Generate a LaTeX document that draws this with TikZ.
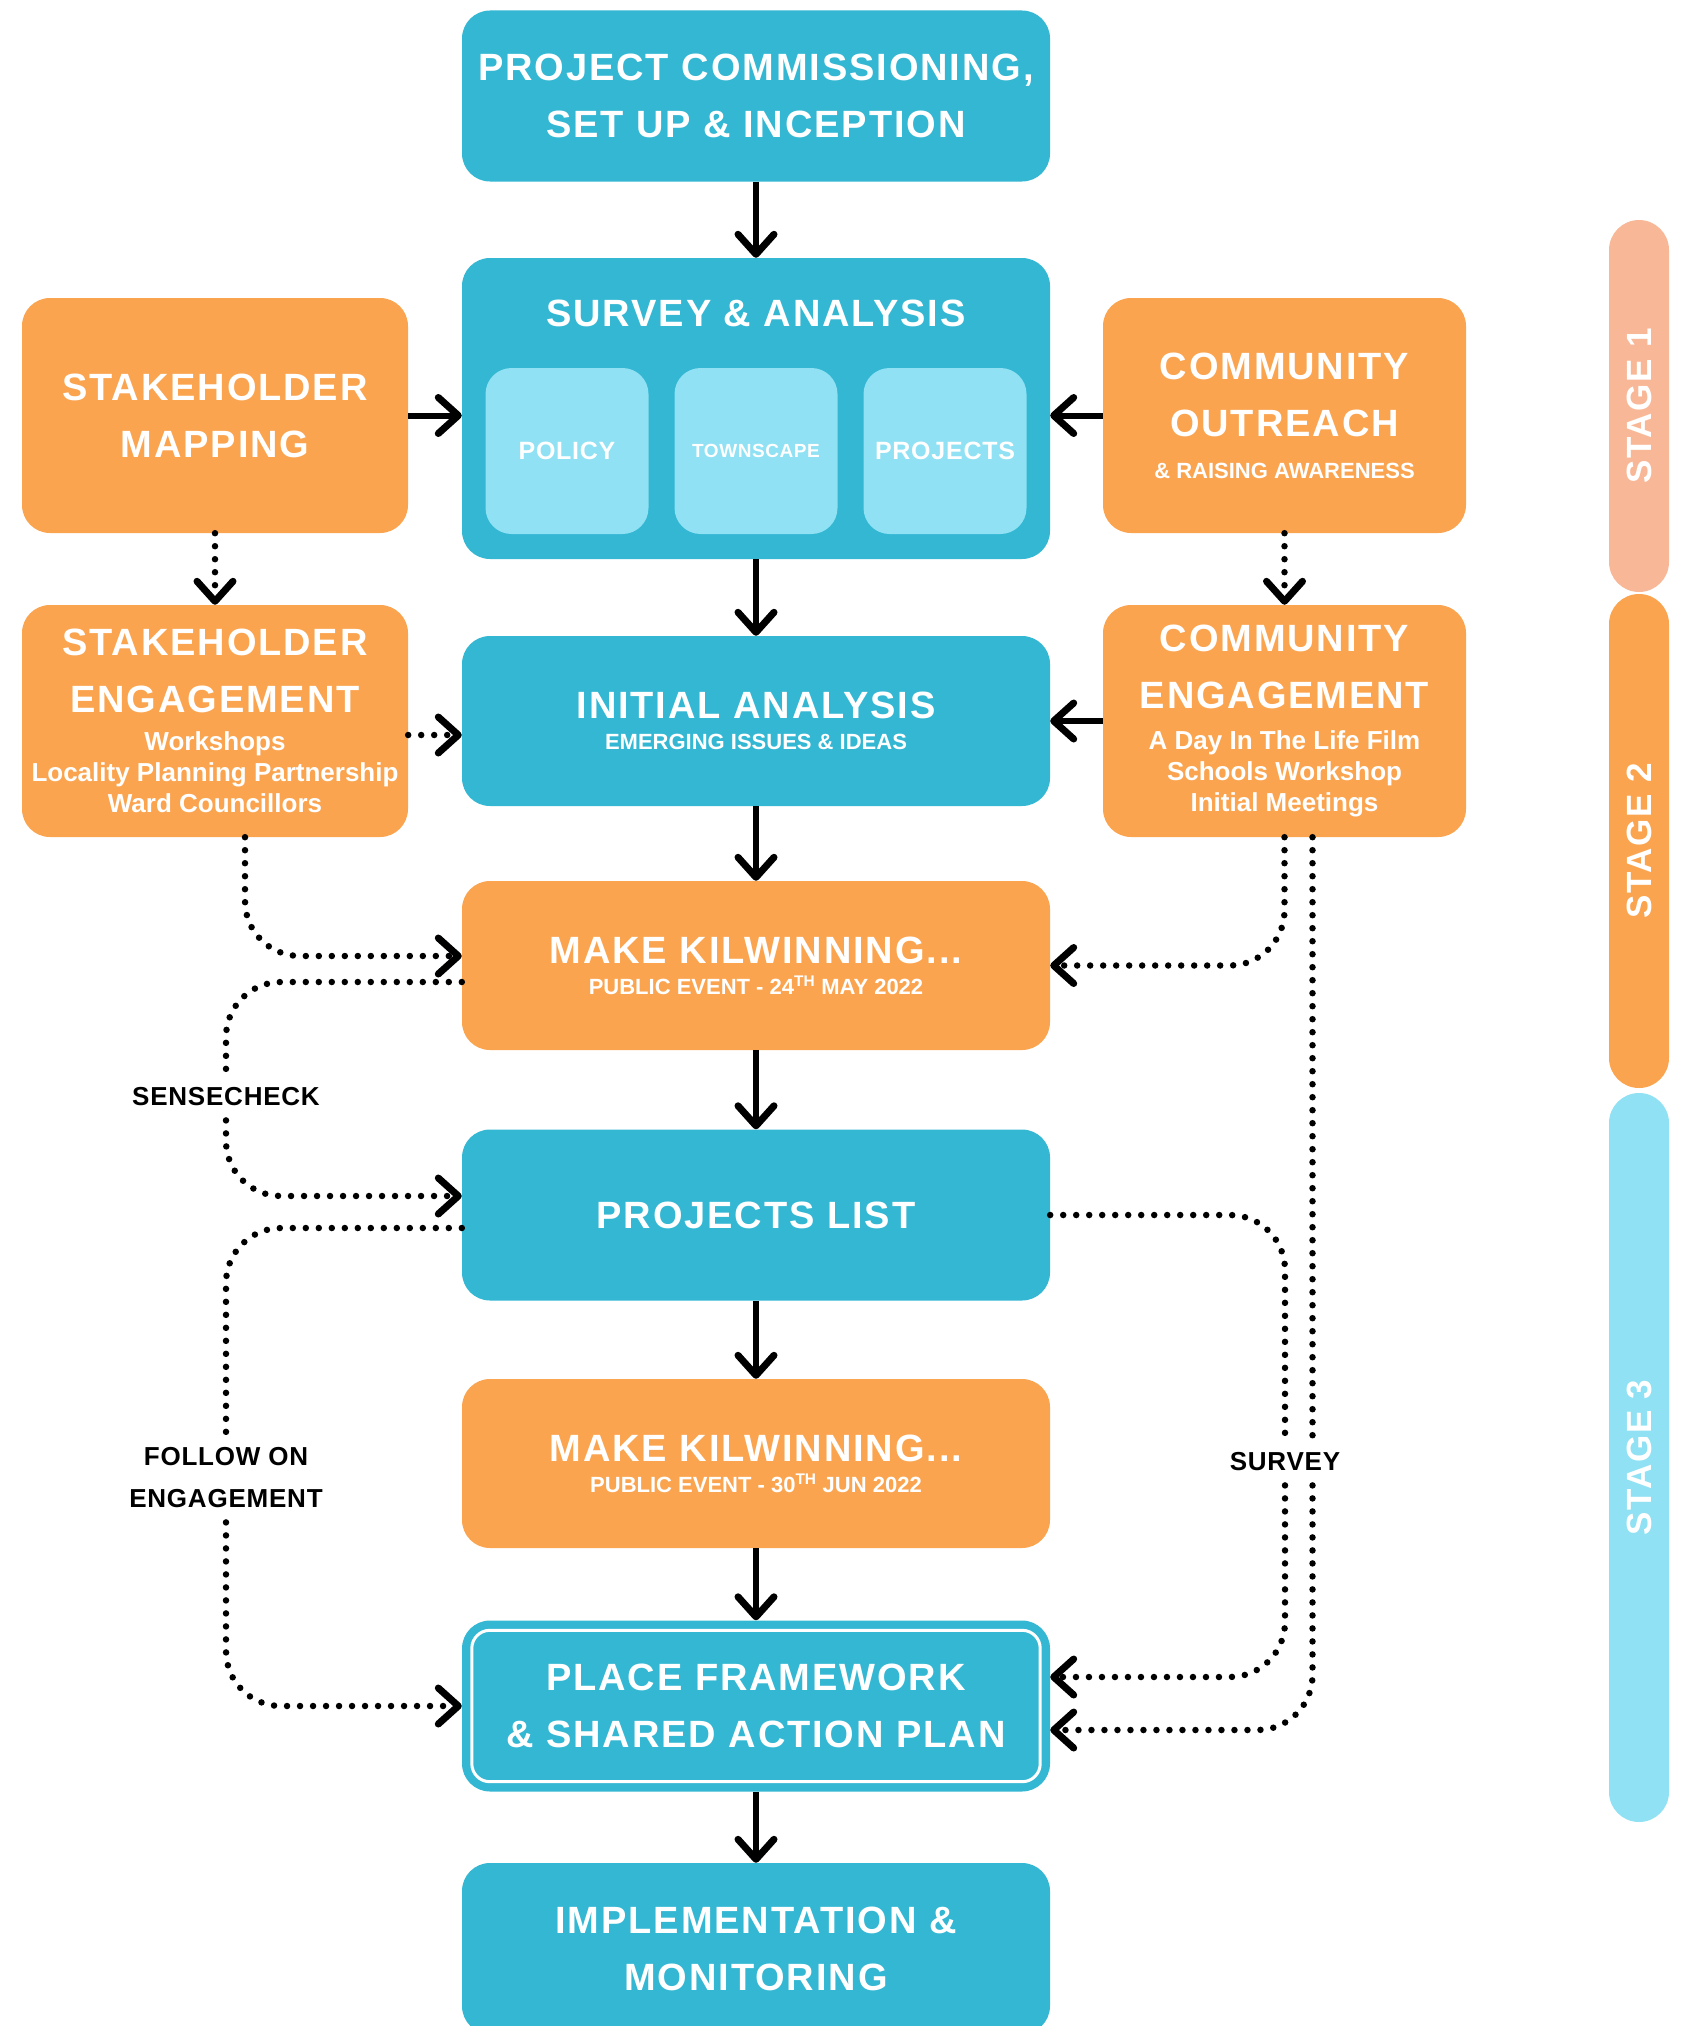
\documentclass[tikz,border=0pt]{standalone}
\usepackage{fontspec}
\setmainfont{Liberation Sans}
\newfontfamily\headfam{Liberation Sans}[LetterSpace=5]
\newfontfamily\midfam{Liberation Sans}[LetterSpace=3]
\usetikzlibrary{arrows.meta}

\definecolor{boxteal}{HTML}{33B7D3}
\definecolor{boxorange}{HTML}{FBA44F}
\definecolor{paleblue}{HTML}{8FE1F3}
\definecolor{stagesalmon}{HTML}{F8B897}

\newcommand\headfont{\headfam\bfseries\fontsize{38}{57}\selectfont}
\newcommand\bodyfont{\rmfamily\bfseries\fontsize{26}{31}\selectfont}
\newcommand\subfont{\rmfamily\bfseries\fontsize{22}{27}\selectfont}
\newcommand\tagfont{\midfam\bfseries\fontsize{26}{42}\selectfont}

\begin{document}
\begin{tikzpicture}[x=1pt,y=-1pt]
    \tikzset{box/.style = {rectangle,rounded corners=28pt,inner sep=0pt,text=white,align=center,font=\headfont}}
    \tikzset{tealbox/.style = {box,fill=boxteal,minimum width=588pt,minimum height=171pt}}
    \tikzset{orangebox/.style = {box,fill=boxorange}}
    \tikzset{subbox/.style = {rectangle,rounded corners=26pt,fill=paleblue,minimum width=163pt,minimum height=166pt,text=white,font=\midfam\bfseries\fontsize{25}{30}\selectfont}}
    \tikzset{stagebar/.style = {rectangle,rounded corners=30pt,minimum height=60pt,rotate=90,text=white,font=\headfam\bfseries\fontsize{35}{40}\selectfont}}
    \tikzset{tag/.style = {align=center,inner sep=14pt,font=\tagfont}}
    \tikzset{edge/.style = {-{Straight Barb[length=20pt,width=36pt,line width=7pt,round]},line width=6pt}}
    \tikzset{dotline/.style = {line width=6.5pt,line cap=round,dash pattern=on 0pt off 13pt,rounded corners=55pt}}
    \tikzset{dotedge/.style = {edge,dotline}}

    \useasboundingbox (0,0) rectangle (1691,2026);
    \clip (0,0) rectangle (1691,2026);

    % main column
    \node[tealbox] (pci) at (756,96) {PROJECT COMMISSIONING,\\SET UP \& INCEPTION};
    \node[tealbox,minimum height=301pt] (sa) at (756,408.5) {};
    \node[text=white,font=\headfont,anchor=base] (satitle) at (756,326) {SURVEY \& ANALYSIS};
    \node[subbox] (policy) at (567,451) {POLICY};
    \node[subbox,font=\midfam\bfseries\fontsize{19}{24}\selectfont] (townscape) at (756,451) {TOWNSCAPE};
    \node[subbox] (projects) at (945,451) {PROJECTS};
    \node[tealbox,minimum height=170pt] (ia) at (756,721) {INITIAL ANALYSIS\\[-26.3pt]\subfont EMERGING ISSUES \& IDEAS};
    \node[orangebox,minimum width=588pt,minimum height=169pt] (mk1) at (756,965.5) {MAKE KILWINNING...\\[-26.3pt]\subfont PUBLIC EVENT - 24\textsuperscript{TH} MAY 2022};
    \node[tealbox] (pl) at (756,1215) {PROJECTS LIST};
    \node[orangebox,minimum width=588pt,minimum height=169pt] (mk2) at (756,1463.5) {MAKE KILWINNING...\\[-26.3pt]\subfont PUBLIC EVENT - 30\textsuperscript{TH} JUN 2022};
    \node[tealbox] (pf) at (756,1706) {PLACE FRAMEWORK\\\& SHARED ACTION PLAN};
    \draw[white,line width=3pt,rounded corners=18pt] ([shift={(10,10)}]pf.north west) rectangle ([shift={(-10,-10)}]pf.south east);
    \node[tealbox] (im) at (756,1948.5) {IMPLEMENTATION \&\\MONITORING};

    % side boxes
    \node[orangebox,minimum width=386pt,minimum height=235pt] (sm) at (215,415.5) {STAKEHOLDER\\MAPPING};
    \node[orangebox,minimum width=363pt,minimum height=235pt] (co) at (1284.5,415.5) {COMMUNITY\\OUTREACH\\[-15.3pt]\subfont\& RAISING AWARENESS};
    \node[orangebox,minimum width=386pt,minimum height=232pt] (se) at (215,721) {STAKEHOLDER\\ENGAGEMENT\\[-19pt]\bodyfont Workshops\\[-26pt]\bodyfont Locality Planning Partnership\\[-26pt]\bodyfont Ward Councillors};
    \node[orangebox,minimum width=363pt,minimum height=232pt] (ce) at (1284.5,721) {COMMUNITY\\ENGAGEMENT\\[-16pt]\bodyfont A Day In The Life Film\\[-26pt]\bodyfont Schools Workshop\\[-26pt]\bodyfont Initial Meetings};

    % stages
    \node[stagebar,fill=stagesalmon,minimum width=372pt] (st1) at (1639,406) {STAGE 1};
    \node[stagebar,fill=boxorange,minimum width=494pt] (st2) at (1639,841) {STAGE 2};
    \node[stagebar,fill=paleblue,minimum width=729pt] (st3) at (1639,1457.5) {STAGE 3};

    % labels on the loops
    \node[tag] (sense) at (226,1097) {SENSECHECK};
    \node[tag] (follow) at (226,1478) {FOLLOW ON\\ENGAGEMENT};
    \node[tag] (survey) at (1285,1462) {SURVEY};

    % solid flow
    \draw[edge] (pci) -- (sa);
    \draw[edge] (sa) -- (ia);
    \draw[edge] (ia) -- (mk1);
    \draw[edge] (mk1) -- (pl);
    \draw[edge] (pl) -- (mk2);
    \draw[edge] (mk2) -- (pf);
    \draw[edge] (pf) -- (im);
    \draw[edge] (sm.east) -- (sm.east -| sa.west);
    \draw[edge] (co.west) -- (co.west -| sa.east);
    \draw[edge] (ce.west) -- (ia.east);

    % dotted flow
    \draw[dotedge] (sm) -- (se);
    \draw[dotedge] (co) -- (ce);
    \draw[dotedge] ([yshift=-14pt]se.east) -- ([yshift=-14pt]ia.west);
    \draw[dotedge] ([xshift=30pt]se.south) |- ([yshift=9.5pt]mk1.west);
    \draw[dotedge] (ce.south) |- (mk1.east);
    \draw[dotline] ([yshift=-16.5pt]mk1.west) -| (sense.north);
    \draw[dotedge] (sense.south) |- ([yshift=19pt]pl.west);
    \draw[dotline] ([yshift=-13pt]pl.west) -| (follow.north);
    \draw[dotedge] (follow.south) |- (pf.west);
    \draw[dotline] (pl.east) -| (survey.north);
    \draw[dotedge] (survey.south) |- ([yshift=29pt]pf.east);
    \coordinate (cefoot) at ([xshift=28pt]ce.south);
    \draw[dotline] (cefoot) -- (cefoot |- survey.north);
    \draw[dotedge] (cefoot |- survey.south) |- ([yshift=-24pt]pf.east);

\end{tikzpicture}
\end{document}
